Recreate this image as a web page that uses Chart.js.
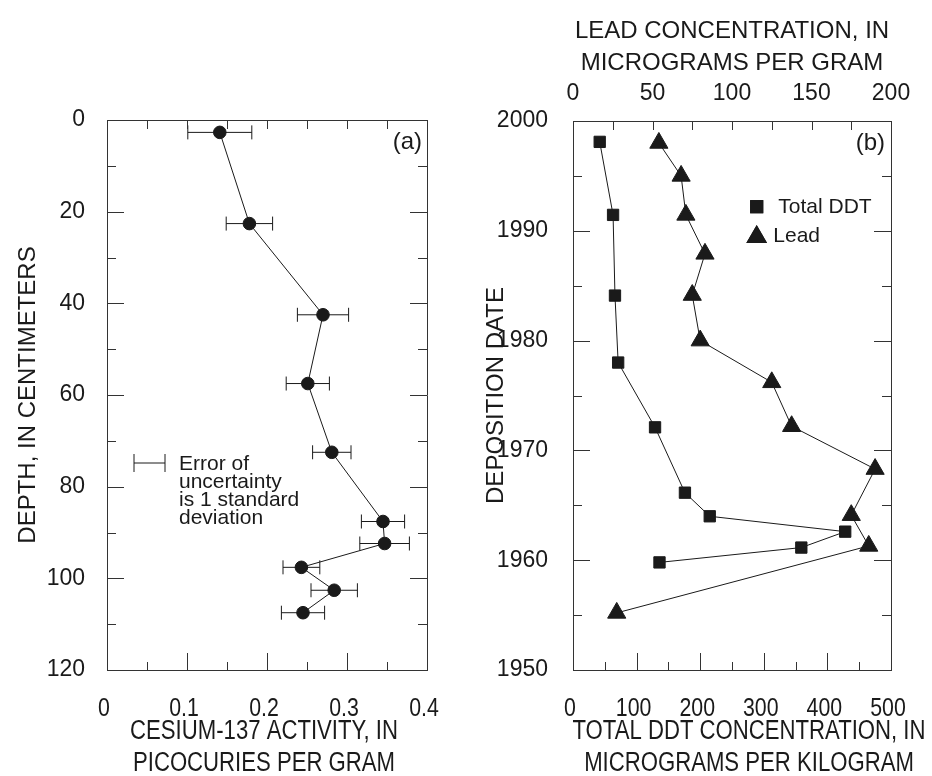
<!DOCTYPE html>
<html>
<head>
<meta charset="utf-8">
<script src="https://cdn.jsdelivr.net/npm/chart.js@4.4.1/dist/chart.umd.min.js"></script>
<style>
  body { margin: 0; background: #fff; }
  #wrap { position: relative; width: 932px; height: 776px; }
  canvas { position: absolute; top: 0; }
</style>
</head>
<body>
<div id="wrap">
  <canvas id="cesiumChart" width="466" height="776" style="left:0"></canvas>
  <canvas id="ddtChart" width="466" height="776" style="left:466px"></canvas>
</div>
<script>
// panel (a) - cesium-137 vs depth
var depth = [2.7, 22.6, 42.5, 57.5, 72.5, 87.6, 92.4, 97.6, 102.6, 107.5];
var cesium = [0.141, 0.178, 0.270, 0.251, 0.281, 0.345, 0.347, 0.243, 0.284, 0.245];
var cesiumError = [0.040, 0.029, 0.032, 0.027, 0.024, 0.027, 0.031, 0.023, 0.029, 0.027];

// panel (b) - total DDT and lead vs deposition date
var ddtYears = [1998.1, 1991.45, 1984.1, 1978.0, 1972.1, 1966.15, 1964.0, 1962.6, 1961.15, 1959.8];
var ddt = [42, 63, 66, 71, 129, 176, 215, 428, 359, 136];
var leadYears = [1998.0, 1995.0, 1991.45, 1987.9, 1984.15, 1980.0, 1976.2, 1972.2, 1968.3, 1964.1, 1961.3, 1955.2];
var lead = [54, 68, 71, 83, 75, 80, 125, 137.5, 190, 175, 186, 27.5];

// tick marks drawn inside the frame
var cesiumMajor = [0.1, 0.2, 0.3];
var cesiumMinor = [0.05, 0.15, 0.25, 0.35];
var cesiumTop = [0.05, 0.1, 0.15, 0.2, 0.25, 0.3, 0.35];
var depthMajor = [20, 40, 60, 80, 100];
var depthMinor = [10, 30, 50, 70, 90, 110];
var ddtMajor = [100, 200, 300, 400];
var ddtMinor = [50, 150, 250, 350, 450];
var leadTicks = [25, 50, 75, 100, 125, 150, 175];
var yearMajor = [1960, 1970, 1980, 1990];
var yearMinor = [1955, 1965, 1975, 1985, 1995];

var INK = '#1a1a1a';
var FRAME = '#333';
var SANS = "'Liberation Sans', Arial, sans-serif";
var SQUEEZE = 0.82; // bottom axis text is set in a condensed face

function toPoints(xs, ys) {
    return xs.map(function (x, i) { return { x: x, y: ys[i] }; });
}

function fixSize(prop, size) {
    return function (scale) { scale[prop] = size; };
}

var tickMarks = {
    id: 'tickMarks',
    afterDraw: function (chart, args, opts) {
        var ctx = chart.ctx;
        var a = chart.chartArea;
        ctx.save();
        ctx.strokeStyle = FRAME;
        ctx.lineWidth = 1;
        opts.marks.forEach(function (m) {
            var scale = chart.scales[m.axis];
            m.values.forEach(function (v) {
                var p = Math.round(scale.getPixelForValue(v)) + 0.5;
                ctx.beginPath();
                if (m.side === 'bottom') { ctx.moveTo(p, a.bottom); ctx.lineTo(p, a.bottom - m.len); }
                if (m.side === 'top') { ctx.moveTo(p, a.top); ctx.lineTo(p, a.top + m.len); }
                if (m.side === 'left') { ctx.moveTo(a.left, p); ctx.lineTo(a.left + m.len, p); }
                if (m.side === 'right') { ctx.moveTo(a.right, p); ctx.lineTo(a.right - m.len, p); }
                ctx.stroke();
            });
        });
        ctx.restore();
    }
};

// bottom tick labels + title, drawn condensed
var narrowAxis = {
    id: 'narrowAxis',
    afterDraw: function (chart, args, opts) {
        var ctx = chart.ctx;
        var a = chart.chartArea;
        var scale = chart.scales.x;
        function squeezed(text, x, y) {
            ctx.save();
            ctx.translate(x, y);
            ctx.scale(SQUEEZE, 1);
            ctx.fillText(text, 0, 0);
            ctx.restore();
        }
        ctx.save();
        ctx.fillStyle = INK;
        ctx.textAlign = 'center';
        ctx.textBaseline = 'alphabetic';
        ctx.font = '26px ' + SANS;
        scale.ticks.forEach(function (t) {
            var label = t.label !== undefined ? t.label : t.value;
            squeezed(String(label), scale.getPixelForValue(t.value) - 3, a.bottom + 46);
        });
        ctx.font = '27px ' + SANS;
        var cx = (a.left + a.right) / 2 + (opts.shift || 0);
        opts.title.forEach(function (line, i) {
            squeezed(line, cx, a.bottom + 69 + i * 32);
        });
        ctx.restore();
    }
};

var errorBars = {
    id: 'errorBars',
    beforeDatasetsDraw: function (chart) {
        var ctx = chart.ctx;
        var xs = chart.scales.x, ys = chart.scales.y;
        ctx.save();
        ctx.strokeStyle = INK;
        ctx.lineWidth = 1;
        cesium.forEach(function (c, i) {
            var lo = xs.getPixelForValue(c - cesiumError[i]);
            var hi = xs.getPixelForValue(c + cesiumError[i]);
            var y = ys.getPixelForValue(depth[i]);
            ctx.beginPath();
            ctx.moveTo(lo, y); ctx.lineTo(hi, y);
            ctx.moveTo(lo, y - 7); ctx.lineTo(lo, y + 7);
            ctx.moveTo(hi, y - 7); ctx.lineTo(hi, y + 7);
            ctx.stroke();
        });
        ctx.restore();
    }
};

var cesiumNotes = {
    id: 'cesiumNotes',
    afterDraw: function (chart) {
        var ctx = chart.ctx;
        var a = chart.chartArea;
        ctx.save();
        ctx.fillStyle = INK;
        ctx.strokeStyle = INK;
        ctx.lineWidth = 1;
        ctx.font = '24px ' + SANS;
        ctx.textAlign = 'right';
        ctx.textBaseline = 'middle';
        ctx.fillText('(a)', a.right - 5, a.top + 22);

        // sample error bar
        var y = a.top + 343;
        ctx.beginPath();
        ctx.moveTo(a.left + 27, y); ctx.lineTo(a.left + 58, y);
        ctx.moveTo(a.left + 27, y - 9); ctx.lineTo(a.left + 27, y + 9);
        ctx.moveTo(a.left + 58, y - 9); ctx.lineTo(a.left + 58, y + 9);
        ctx.stroke();

        ctx.font = '21px ' + SANS;
        ctx.textAlign = 'left';
        ctx.textBaseline = 'alphabetic';
        ['Error of', 'uncertainty', 'is 1 standard', 'deviation'].forEach(function (t, i) {
            ctx.fillText(t, a.left + 72, a.top + 349.5 + i * 18.3);
        });
        ctx.restore();
    }
};

var ddtNotes = {
    id: 'ddtNotes',
    afterDraw: function (chart) {
        var ctx = chart.ctx;
        var a = chart.chartArea;
        ctx.save();
        ctx.fillStyle = INK;
        ctx.font = '24px ' + SANS;
        ctx.textAlign = 'right';
        ctx.textBaseline = 'middle';
        ctx.fillText('(b)', a.right - 6, a.top + 22);

        Chart.helpers.drawPoint(ctx, { pointStyle: 'rect', radius: 9.3, borderWidth: 0 }, a.left + 183.7, a.top + 85.7);
        ctx.fill();
        Chart.helpers.drawPoint(ctx, { pointStyle: 'triangle', radius: 12, borderWidth: 0 }, a.left + 183.7, a.top + 116);
        ctx.fill();

        ctx.font = '21px ' + SANS;
        ctx.textAlign = 'left';
        ctx.textBaseline = 'alphabetic';
        ctx.fillText('Total DDT', a.left + 205.3, a.top + 92.3);
        ctx.fillText('Lead', a.left + 200.3, a.top + 120.7);
        ctx.restore();
    }
};

var tickFont = { family: SANS, size: 23 };
var titleFont = { family: SANS, size: 24, lineHeight: 1.2 };
var plain = function (v) { return String(v); };

function frameAxis(extra) {
    var base = {
        grid: { display: false, drawTicks: false },
        border: { display: true, color: FRAME, width: 1 }
    };
    return Object.assign(base, extra);
}

new Chart(document.getElementById('cesiumChart'), {
    type: 'scatter',
    data: {
        datasets: [{
            data: toPoints(cesium, depth),
            showLine: true,
            borderColor: INK,
            borderWidth: 1,
            backgroundColor: INK,
            pointRadius: 6.3,
            pointHoverRadius: 6.3
        }]
    },
    options: {
        responsive: false,
        animation: false,
        layout: { padding: 0 },
        plugins: {
            legend: { display: false },
            tooltip: { enabled: false },
            narrowAxis: { title: ['CESIUM-137 ACTIVITY, IN', 'PICOCURIES PER GRAM'], shift: -3 },
            tickMarks: {
                marks: [
                    { axis: 'x', side: 'bottom', values: cesiumMajor, len: 17 },
                    { axis: 'x', side: 'bottom', values: cesiumMinor, len: 8 },
                    { axis: 'x', side: 'top', values: cesiumTop, len: 9 },
                    { axis: 'y', side: 'left', values: depthMajor, len: 17 },
                    { axis: 'y', side: 'left', values: depthMinor, len: 9 },
                    { axis: 'y', side: 'right', values: depthMajor, len: 17 },
                    { axis: 'y', side: 'right', values: depthMinor, len: 9 }
                ]
            }
        },
        scales: {
            x: frameAxis({
                type: 'linear', position: 'bottom', min: 0, max: 0.4,
                ticks: { stepSize: 0.1, display: false, callback: plain },
                afterFit: fixSize('height', 106)
            }),
            x2: frameAxis({
                type: 'linear', position: 'top', min: 0, max: 0.4,
                ticks: { display: false },
                afterFit: fixSize('height', 120)
            }),
            y: frameAxis({
                type: 'linear', position: 'left', min: 0, max: 120, reverse: true,
                ticks: { stepSize: 20, padding: 22, color: INK, font: tickFont, callback: plain },
                title: { display: true, text: 'DEPTH, IN CENTIMETERS', color: INK, font: titleFont, padding: { top: 14 } },
                afterFit: fixSize('width', 107)
            }),
            y2: frameAxis({
                type: 'linear', position: 'right', min: 0, max: 120, reverse: true,
                ticks: { display: false },
                afterFit: fixSize('width', 39)
            })
        }
    },
    plugins: [errorBars, tickMarks, cesiumNotes, narrowAxis]
});

new Chart(document.getElementById('ddtChart'), {
    type: 'scatter',
    data: {
        datasets: [{
            label: 'Total DDT',
            data: toPoints(ddt, ddtYears),
            xAxisID: 'x',
            showLine: true,
            borderColor: INK,
            borderWidth: 1,
            backgroundColor: INK,
            pointStyle: 'rect',
            pointRadius: 8,
            pointHoverRadius: 8
        }, {
            label: 'Lead',
            data: toPoints(lead, leadYears),
            xAxisID: 'xLead',
            showLine: true,
            borderColor: INK,
            borderWidth: 1,
            backgroundColor: INK,
            pointStyle: 'triangle',
            pointRadius: 10.5,
            pointHoverRadius: 10.5
        }]
    },
    options: {
        responsive: false,
        animation: false,
        layout: { padding: 0 },
        plugins: {
            legend: { display: false },
            tooltip: { enabled: false },
            narrowAxis: { title: ['TOTAL DDT CONCENTRATION, IN', 'MICROGRAMS PER KILOGRAM'], shift: 17 },
            tickMarks: {
                marks: [
                    { axis: 'x', side: 'bottom', values: ddtMajor, len: 17 },
                    { axis: 'x', side: 'bottom', values: ddtMinor, len: 8 },
                    { axis: 'xLead', side: 'top', values: leadTicks, len: 9 },
                    { axis: 'y', side: 'left', values: yearMajor, len: 17 },
                    { axis: 'y', side: 'left', values: yearMinor, len: 9 },
                    { axis: 'y', side: 'right', values: yearMajor, len: 17 },
                    { axis: 'y', side: 'right', values: yearMinor, len: 9 }
                ]
            }
        },
        scales: {
            x: frameAxis({
                type: 'linear', position: 'bottom', min: 0, max: 500,
                ticks: { stepSize: 100, display: false, callback: plain },
                afterFit: fixSize('height', 106)
            }),
            xLead: frameAxis({
                type: 'linear', position: 'top', min: 0, max: 200,
                ticks: { stepSize: 50, padding: 14, color: INK, font: tickFont, callback: plain },
                title: { display: true, text: ['LEAD CONCENTRATION, IN', 'MICROGRAMS PER GRAM'], color: INK, font: { family: SANS, size: 24, lineHeight: 1.32 }, padding: { top: 16 } },
                afterFit: fixSize('height', 121)
            }),
            y: frameAxis({
                type: 'linear', position: 'left', min: 1950, max: 2000,
                ticks: { stepSize: 10, padding: 25, color: INK, font: tickFont, callback: plain },
                title: { display: true, text: 'DEPOSITION DATE', color: INK, font: titleFont, padding: { top: 16 } },
                afterFit: fixSize('width', 107)
            }),
            y2: frameAxis({
                type: 'linear', position: 'right', min: 1950, max: 2000,
                ticks: { display: false },
                afterFit: fixSize('width', 41)
            })
        }
    },
    plugins: [tickMarks, ddtNotes, narrowAxis]
});
</script>
</body>
</html>
